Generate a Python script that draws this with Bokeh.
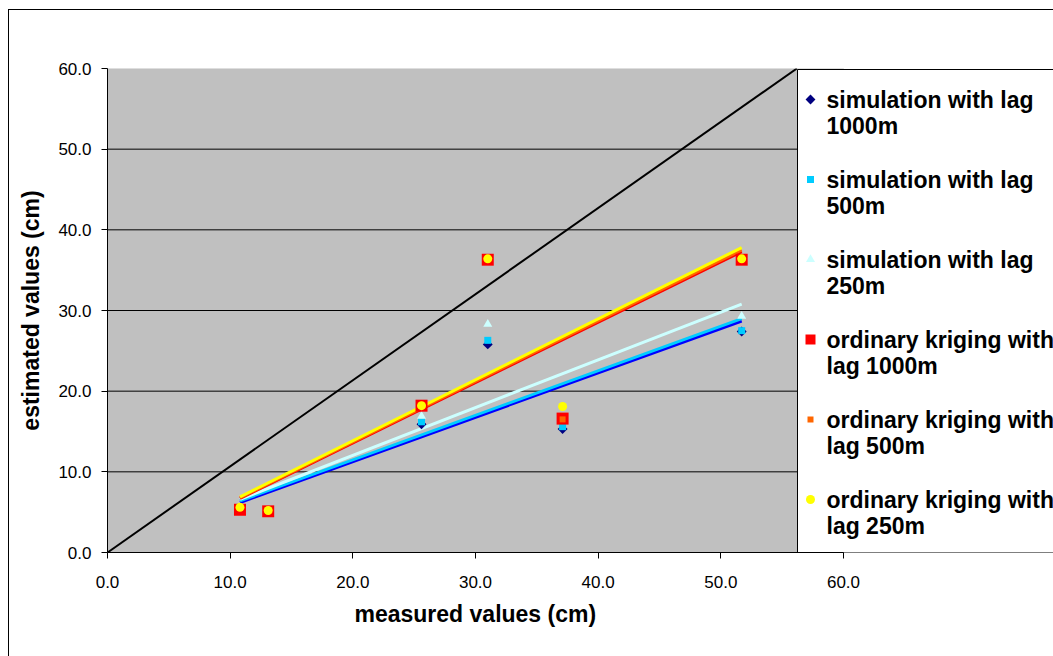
import math
from bokeh.plotting import figure
from bokeh.models import Range1d, FixedTicker, PrintfTickFormatter, BoxAnnotation, Title
from bokeh.core.properties import value
from bokeh.embed import file_html
from bokeh.resources import INLINE

# ---------------- data ----------------
measured = [10.8, 13.1, 25.6, 31.0, 37.1, 51.7]
sim_1000 = [5.3, 5.1, 15.9, 25.8, 15.3, 27.4]
sim_500 = [5.3, 5.1, 16.2, 26.3, 15.6, 27.5]
sim_250 = [5.3, 5.1, 16.9, 28.3, 16.6, 29.3]
ok_1000 = [5.3, 5.1, 18.2, 36.3, 16.6, 36.3]
ok_500 = [5.6, 5.2, 18.2, 36.4, 16.5, 36.4]
ok_250 = [5.6, 5.2, 18.2, 36.4, 18.1, 36.4]

trend_x = [10.8, 51.7]
trend_sim_1000 = [6.2, 28.7]
trend_sim_500 = [6.4, 29.0]
trend_sim_250 = [6.6, 30.8]
trend_ok_1000 = [6.7, 37.3]
trend_ok_500 = [6.8, 37.5]
trend_ok_250 = [6.9, 37.8]

diag_x = [0.0, 56.2]
diag_y = [0.0, 60.0]

ticks = [0, 10, 20, 30, 40, 50, 60]
grid_vals = [10, 20, 30, 40, 50]

x_title = "measured values (cm)"
y_title = "estimated values (cm)"
labels = [
    ("simulation with lag", "1000m"),
    ("simulation with lag", "500m"),
    ("simulation with lag", "250m"),
    ("ordinary kriging with", "lag 1000m"),
    ("ordinary kriging with", "lag 500m"),
    ("ordinary kriging with", "lag 250m"),
]

# ---------------- layout ----------------
W, H = 1053, 656
FL, FT, FB = 107, 68, 552
PX = (843 - FL) / 60.0      # pixels per x unit
PY = (FB - FT) / 60.0       # pixels per y unit
FONT = "Liberation Sans"
BOLD_SIZE = "23px"

p = figure(width=W, height=H, output_backend="svg", toolbar_location=None,
           x_range=Range1d(0, (W - FL) / PX), y_range=Range1d(0, 60),
           min_border_left=FL, min_border_right=0, min_border_top=FT,
           min_border_bottom=H - FB)
p.background_fill_color = "white"
p.border_fill_color = "white"
p.border_fill_alpha = 0.0
p.outline_line_color = None
p.xgrid.visible = False
p.ygrid.visible = False
# outer chart-area border, painted behind the (transparent) canvas border area
p.styles = {
    "background": ("linear-gradient(#000, #000) 8px 9px / 1px 100% no-repeat, "
                   "linear-gradient(#000, #000) 8px 9px / 100% 1px no-repeat, #ffffff"),
}

# gray plot area
p.add_layout(BoxAnnotation(left=0, right=60, bottom=0, top=60,
                           fill_color="#C0C0C0", fill_alpha=1.0,
                           line_color="#808080", line_width=1, level="underlay"))

# grid lines
p.segment(x0=[0] * len(grid_vals), x1=[60] * len(grid_vals), y0=grid_vals, y1=grid_vals,
          line_color="black", line_width=1)

# axes
for ax in (p.xaxis[0], p.yaxis[0]):
    ax.ticker = FixedTicker(ticks=ticks)
    ax.formatter = PrintfTickFormatter(format="%.1f")
    ax.bounds = (0, 60)
    ax.major_tick_in = 0
    ax.major_tick_out = 6
    ax.minor_tick_out = 0
    ax.minor_tick_in = 0
    ax.axis_line_color = "black"
    ax.major_tick_line_color = "black"
    ax.major_label_text_font = FONT
    ax.major_label_text_font_size = "17px"
    ax.major_label_text_color = "black"
    ax.axis_label_text_font = FONT
    ax.axis_label_text_font_size = BOLD_SIZE
    ax.axis_label_text_font_style = "bold"
    ax.axis_label_text_color = "black"
p.yaxis.axis_label = y_title
p.xaxis.major_label_standoff = 17
p.yaxis.major_label_standoff = 10
p.yaxis.axis_label_standoff = 11

# x axis title, centred under the 0..60 span
xt = Title(text=x_title, align="left", offset=247, standoff=17,
           text_font=FONT, text_font_size=BOLD_SIZE, text_font_style="bold",
           text_color="black")
p.add_layout(xt, "below")

# diagonal
p.line(diag_x, diag_y, line_color="black", line_width=2)

# trend lines
p.line(trend_x, trend_sim_1000, line_color="#0000FF", line_width=3)
p.line(trend_x, trend_sim_500, line_color="#00CCFF", line_width=3)
p.line(trend_x, trend_sim_250, line_color="#CCFFFF", line_width=3)
p.line(trend_x, trend_ok_1000, line_color="#FF0000", line_width=3)
p.line(trend_x, trend_ok_500, line_color="#FF6600", line_width=3)
p.line(trend_x, trend_ok_250, line_color="#FFFF00", line_width=3)

styles = [
    dict(marker="square", size=7, color="#000080", angle=math.pi / 4),
    dict(marker="square", size=7, color="#00CCFF", angle=0.0),
    dict(marker="triangle", size=9, color="#CCFFFF", angle=0.0),
    dict(marker="square", size=12, color="#FF0000", angle=0.0),
    dict(marker="square", size=6, color="#FF6600", angle=0.0),
    dict(marker="circle", size=9, color="#FFFF00", angle=0.0),
]
series = [sim_1000, sim_500, sim_250, ok_1000, ok_500, ok_250]
for ys, st in zip(series, styles):
    p.scatter(measured, ys, marker=st["marker"], size=st["size"], angle=st["angle"],
              fill_color=st["color"], line_color=st["color"], line_width=0)

# legend box (drawn manually)
lx0 = (797 - FL) / PX
lx1 = (W + 20 - FL) / PX
ly_top = (FB - 69) / PY
p.quad(left=[lx0], right=[lx1], bottom=[0], top=[ly_top],
       fill_color="white", line_color="black", line_width=1)
gx = (810 - FL) / PX
tx = (826 - FL) / PX
for i, ((l1, l2), st) in enumerate(zip(labels, styles)):
    y1 = (FB - (99 + 80 * i)) / PY
    y2 = y1 - 26 / PY
    lsize = st["size"] if st["size"] <= 9 else st["size"] - 2
    p.scatter([gx], [y1], marker=st["marker"], size=lsize, angle=st["angle"],
              fill_color=st["color"], line_color=st["color"], line_width=0)
    p.text([tx, tx], [y1, y2], text=[l1, l2], text_font=value(FONT),
           text_font_style="bold", text_font_size=BOLD_SIZE, text_color="black",
           text_align="left", text_baseline="middle")

open("out.html", "w").write(file_html(p, INLINE))
